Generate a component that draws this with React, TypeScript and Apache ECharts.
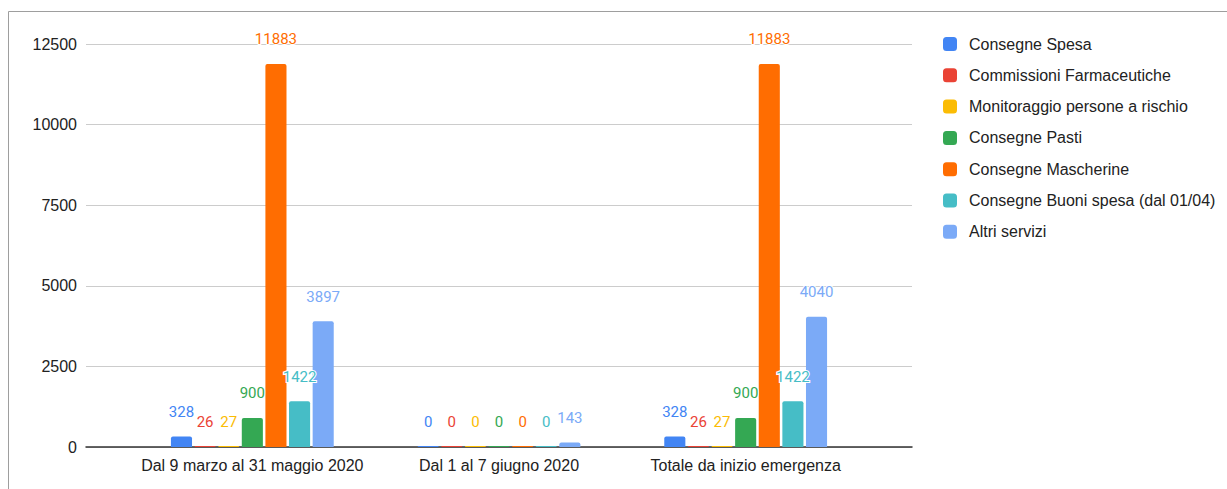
import React, { useEffect, useRef } from "react";
import * as echarts from "echarts";

const categories = ["Dal 9 marzo al 31 maggio 2020", "Dal 1 al 7 giugno 2020", "Totale da inizio emergenza"];
const seriesNames = [
  "Consegne Spesa",
  "Commissioni Farmaceutiche",
  "Monitoraggio persone a rischio",
  "Consegne Pasti",
  "Consegne Mascherine",
  "Consegne Buoni spesa (dal 01/04)",
  "Altri servizi",
];
const consegneSpesa = [328, 0, 328];
const commissioniFarmaceutiche = [26, 0, 26];
const monitoraggio = [27, 0, 27];
const consegnePasti = [900, 0, 900];
const consegneMascherine = [11883, 0, 11883];
const buoniSpesa = [1422, 0, 1422];
const altriServizi = [3897, 143, 4040];
const seriesValues = [consegneSpesa, commissioniFarmaceutiche, monitoraggio, consegnePasti, consegneMascherine, buoniSpesa, altriServizi];
const colors = ["#4285F4", "#EA4335", "#FBBC04", "#34A853", "#FF6D01", "#46BDC6", "#7BAAF7"];
const yTicks = { min: 0, max: 12500, interval: 2500 };

export default function App() {
  const ref = useRef<HTMLDivElement>(null);
  useEffect(() => {
    if (!ref.current) return;
    const chart = echarts.init(ref.current, null, { renderer: "svg" });
    const top = 44;
    const bottom = 489 - 447;
    const font = "Liberation Sans, Arial, sans-serif";
    chart.setOption({
      animation: false,
      backgroundColor: "#ffffff",
      graphic: [
        {
          type: "rect",
          shape: { x: 8.5, y: 11.5, width: 1300, height: 600 },
          style: { fill: "none", stroke: "#9e9e9e", lineWidth: 1 },
          z: -10,
        },
      ],
      legend: {
        orient: "vertical",
        left: 938,
        top: 31,
        itemWidth: 14,
        itemHeight: 14,
        itemGap: 15.3,
        icon: "roundRect",
        textStyle: { fontFamily: font, fontSize: 16, color: "#222222", padding: [0, 0, 0, 7] },
        data: seriesNames,
      },
      grid: [
        { left: 86, right: 1227 - 912, top, bottom },
        { left: 129, right: 1227 - 869, top, bottom },
      ],
      xAxis: [
        {
          gridIndex: 0,
          type: "value",
          min: 0,
          max: 1,
          axisLine: { show: true, onZero: false, lineStyle: { color: "#333333", width: 1.5 } },
          axisTick: { show: false },
          axisLabel: { show: false },
          splitLine: { show: false },
        },
        {
          gridIndex: 1,
          type: "category",
          data: categories,
          axisLine: { show: false },
          axisTick: { show: false },
          axisLabel: { interval: 0, margin: 10, fontFamily: font, fontSize: 16, color: "#222222" },
        },
      ],
      yAxis: [
        {
          gridIndex: 0,
          type: "value",
          ...yTicks,
          axisLine: { show: false },
          axisTick: { show: false },
          axisLabel: { margin: 9, fontFamily: font, fontSize: 16, color: "#222222", formatter: (v: number) => String(v) },
          splitLine: { lineStyle: { color: "#cccccc", width: 1 } },
        },
        {
          gridIndex: 1,
          type: "value",
          ...yTicks,
          show: false,
          splitLine: { show: false },
        },
      ],
      series: seriesNames.map((name, i) => ({
        name,
        type: "bar",
        xAxisIndex: 1,
        yAxisIndex: 1,
        data: seriesValues[i],
        barGap: "12%",
        barCategoryGap: "34%",
        barMinHeight: 1,
        itemStyle: { color: colors[i], borderRadius: [2, 2, 0, 0] },
        label: {
          show: true,
          position: "top",
          distance: 17,
          color: colors[i],
          fontFamily: "Roboto",
          fontSize: 15,
          textBorderColor: "#ffffff",
          textBorderWidth: 2,
        },
      })),
    });
    return () => chart.dispose();
  }, []);
  return <div ref={ref} style={{ position: "fixed", left: 0, top: 0, width: 1227, height: 489 }} />;
}
